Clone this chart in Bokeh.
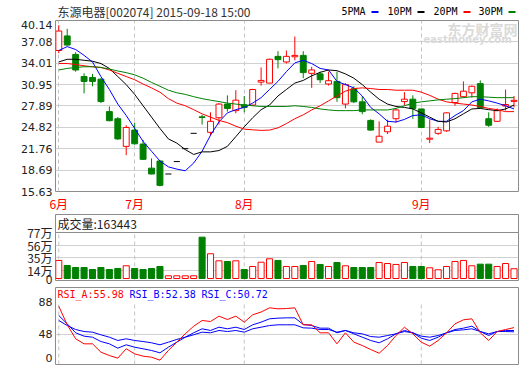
from bokeh.plotting import figure
from bokeh.models import Range1d, FixedTicker, Label, Span, PrintfTickFormatter
from bokeh.layouts import column
from bokeh.embed import file_html
from bokeh.resources import INLINE

# ---------------- data ----------------
stock_name = "东源电器[002074]"
stamp = "2015-09-18 15:00"
month_labels = ["6月", "7月", "8月", "9月"]
month_start = [0, 9, 22, 43]
price_ticks = [15.63, 18.69, 21.76, 24.82, 27.89, 30.95, 34.01, 37.08, 40.14]

opens = [35.84, 37.93, 35.28, 32.11, 31.97, 31.73, 27.08, 26.06, 22.10, 24.43,
         22.43, 18.98, 20.00, 18.14, 19.92, 21.77, 23.97, 26.33, 24.11, 26.20,
         28.16, 27.22, 28.06, 28.02, 31.31, 31.17, 35.00, 34.20, 34.94, 35.14,
         32.57, 32.49, 31.04, 31.41, 28.16, 30.34, 28.48, 25.82, 22.71, 24.19,
         26.06, 28.52, 28.86, 27.46, 23.13, 23.97, 24.33, 28.38, 29.22, 29.78,
         31.09, 26.06, 25.69, 27.88, 28.55]
highs = [39.47, 38.95, 35.60, 32.57, 32.49, 31.87, 27.82, 26.29, 25.13, 25.50,
         23.03, 20.38, 20.10, 18.14, 19.92, 21.77, 23.97, 26.62, 26.98, 28.30,
         29.41, 30.15, 29.32, 30.34, 33.41, 34.67, 35.74, 35.84, 37.84, 35.74,
         33.51, 32.81, 32.81, 32.81, 31.17, 30.71, 29.32, 25.97, 25.69, 25.92,
         27.46, 29.87, 29.41, 27.50, 25.96, 24.89, 26.98, 29.78, 31.41, 30.81,
         31.55, 26.98, 27.54, 30.25, 29.32]
lows = [35.46, 36.54, 32.81, 29.69, 30.71, 28.30, 25.69, 23.03, 20.84, 22.33,
        20.14, 18.10, 16.37, 18.14, 19.92, 21.77, 23.97, 25.22, 23.63, 25.22,
        27.08, 26.84, 26.98, 27.92, 30.81, 31.17, 33.27, 33.97, 34.44, 31.87,
        30.48, 31.17, 30.81, 28.48, 27.54, 28.30, 26.71, 24.33, 22.71, 23.87,
        25.50, 27.98, 26.06, 24.77, 22.57, 23.73, 24.19, 27.92, 29.08, 29.08,
        27.54, 24.89, 25.59, 27.22, 27.68]
closes = [38.63, 36.62, 33.05, 31.41, 31.41, 28.52, 25.78, 23.17, 24.81, 22.47,
          20.24, 18.14, 16.51, 18.14, 19.92, 21.77, 23.97, 26.25, 25.69, 28.16,
          27.54, 28.72, 27.68, 30.25, 31.55, 34.58, 34.53, 35.00, 35.14, 32.67,
          33.05, 31.65, 31.51, 29.08, 30.95, 28.48, 27.08, 24.43, 23.55, 24.99,
          27.32, 28.86, 27.54, 24.81, 23.27, 24.53, 26.90, 29.69, 30.01, 30.71,
          27.68, 25.13, 27.22, 28.10, 28.70]

ma_names = ["5PMA", "10PM", "20PM", "30PM"]
ma5 = [35.84, 36.40, 35.98, 35.14, 34.20, 32.10, 30.25, 28.16, 26.52, 24.67,
       22.80, 21.40, 20.00, 19.16, 18.84, 18.60, 19.70, 21.40, 23.70, 25.60,
       26.90, 27.36, 27.68, 28.30, 29.08, 30.25, 31.41, 32.81, 34.06, 34.44,
       33.97, 33.27, 33.05, 31.41, 30.95, 30.48, 29.32, 27.68, 26.76, 25.69,
       25.59, 25.96, 26.52, 26.62, 26.06, 25.69, 25.69, 26.52, 27.22, 28.48,
       28.86, 28.62, 28.30, 27.92, 27.46]
ma10 = [34.20, 34.58, 34.58, 34.44, 34.30, 33.97, 33.27, 32.11, 30.95, 29.55,
        27.92, 26.29, 24.67, 23.17, 22.57, 21.64, 20.94, 21.31, 21.31, 21.50,
        22.10, 23.49, 24.90, 26.20, 27.36, 28.02, 29.32, 30.25, 31.17, 31.55,
        32.21, 32.71, 33.05, 32.95, 32.49, 31.87, 30.95, 29.87, 28.86, 28.16,
        27.82, 27.68, 27.46, 26.90, 26.29, 25.69, 25.59, 26.06, 26.76, 27.46,
        27.54, 27.36, 27.22, 27.46, 28.02]
ma20 = [33.97, 33.97, 33.83, 33.65, 33.51, 33.41, 33.05, 32.57, 32.11, 31.65,
        31.03, 30.48, 29.87, 28.94, 28.30, 27.92, 27.36, 26.76, 26.29, 25.82,
        25.50, 24.99, 24.57, 24.47, 24.39, 24.43, 24.75, 25.36, 26.06, 26.62,
        27.32, 27.92, 28.62, 29.32, 30.01, 30.39, 30.48, 30.39, 30.25, 30.25,
        30.15, 30.15, 30.15, 29.87, 29.41, 28.86, 28.48, 28.30, 28.16, 28.02,
        27.82, 27.54, 27.36, 27.08, 27.08]
ma30 = [33.05, 33.27, 33.41, 33.51, 33.51, 33.41, 33.18, 32.90, 32.67, 32.35,
        31.87, 31.27, 30.71, 30.15, 29.78, 29.55, 29.22, 28.94, 28.72, 28.52,
        28.30, 28.16, 28.02, 27.92, 27.82, 27.82, 27.82, 27.82, 27.92, 27.82,
        27.68, 27.46, 27.32, 27.22, 27.22, 27.22, 27.32, 27.32, 27.32, 27.32,
        27.54, 27.92, 28.30, 28.48, 28.62, 28.76, 28.86, 28.94, 29.08, 29.22,
        29.22, 29.15, 29.08, 29.08, 29.08]

# volume in 万 (10k)
volume = [30.2, 21.8, 18.4, 18.4, 15.1, 18.4, 15.1, 16.8, 21.3, 16.8,
          15.1, 16.8, 20.1, 4.5, 4.5, 4.5, 4.5, 69.2, 41.4, 29.6,
          28.5, 29.6, 15.1, 20.1, 27.3, 33.0, 30.2, 20.1, 20.1, 21.8,
          28.5, 23.5, 20.1, 26.8, 21.3, 18.4, 18.4, 18.4, 26.8, 25.1,
          23.5, 26.8, 20.1, 20.1, 17.9, 14.6, 20.1, 28.5, 30.2, 21.3,
          24.0, 24.0, 20.1, 25.1, 16.3443]
vol_ticks = [0, 14, 35, 56, 77]
vol_tick_labels = ["0", "14万", "35万", "56万", "77万"]

rsi_a = [82.7, 59.5, 42.0, 35.7, 35.7, 25.3, 21.1, 17.8, 29.5, 23.2,
         20.3, 19.0, 15.3, 27.4, 37.8, 48.2, 57.7, 64.9, 63.6, 70.3,
         66.1, 70.3, 62.8, 72.0, 75.5, 80.7, 79.5, 79.8, 80.7, 59.5,
         59.5, 49.5, 49.5, 35.7, 49.5, 37.8, 33.6, 28.6, 24.0, 33.6,
         46.1, 56.5, 48.2, 37.8, 32.8, 39.9, 49.5, 60.7, 65.7, 67.0,
         49.5, 39.9, 51.1, 53.6, 55.98]
rsi_b = [71.1, 60.7, 49.5, 45.3, 44.0, 38.6, 35.7, 30.3, 34.5, 31.5,
         29.5, 27.4, 24.5, 31.5, 37.8, 44.0, 49.5, 54.5, 52.4, 56.5,
         54.5, 56.5, 53.6, 59.5, 62.8, 67.0, 67.8, 68.2, 68.2, 59.9,
         58.6, 55.3, 55.3, 49.5, 52.4, 48.2, 44.0, 39.9, 37.0, 42.0,
         48.2, 52.4, 49.5, 42.8, 39.9, 44.0, 49.5, 53.6, 55.3, 57.8,
         51.1, 46.1, 51.1, 52.4, 52.38]
rsi_c = [64.9, 58.6, 53.6, 51.1, 50.3, 47.0, 44.0, 39.9, 42.0, 39.9,
         38.6, 37.0, 34.5, 37.8, 41.2, 44.0, 47.0, 50.3, 49.5, 52.4,
         51.1, 52.4, 50.3, 54.5, 56.5, 58.6, 59.5, 59.5, 59.5, 55.7,
         55.3, 53.6, 53.6, 50.3, 52.4, 49.5, 48.2, 44.8, 44.0, 46.1,
         48.2, 51.1, 49.5, 45.3, 44.0, 46.1, 49.5, 52.4, 53.2, 54.5,
         51.1, 48.2, 51.1, 51.1, 50.72]
rsi_ticks = [48, 88]

# ---------------- style ----------------
RED = "#ff0000"
GREEN = "#008000"
BLUE = "#0000ff"
BLACK = "#000000"
GRID = "#d0d0d0"
VGRID = "#c4c4c4"
FRAME = "#8c8c8c"
TXT = "#222222"
CJK = "Noto Sans CJK SC"
MONO = "DejaVu Sans Mono"
ma_colors = [BLUE, BLACK, RED, GREEN]

W = 520
LB, RB = 55, 2
FW = W - LB - RB
n = len(closes)
idx = list(range(n))
step = 8.43
x0 = -0.39
x_range = Range1d(x0, x0 + FW / step)


def px_x(px):
    return x_range.start + (px - LB) * (x_range.end - x_range.start) / FW


def style(p):
    p.outline_line_color = FRAME
    p.outline_line_width = 1
    p.background_fill_color = "white"
    p.border_fill_color = "white"
    p.yaxis.axis_line_color = None
    p.yaxis.major_tick_line_color = None
    p.yaxis.minor_tick_line_color = None
    p.yaxis.major_tick_out = 0
    p.yaxis.major_label_standoff = 3
    p.yaxis.major_label_text_color = TXT
    p.ygrid.grid_line_color = GRID


# ---------------- header strip (title + MA legend) ----------------
HH = 20
p0 = figure(width=W, height=HH, x_range=x_range, y_range=Range1d(HH, 0),
            x_axis_type=None, y_axis_type=None, output_backend="svg",
            toolbar_location=None, min_border_left=LB, min_border_right=RB,
            min_border_top=0, min_border_bottom=0)
p0.outline_line_color = None
p0.grid.visible = False
p0.border_fill_color = "white"
p0.add_layout(Label(x=px_x(57), y=10.5, text=stock_name + " " + stamp,
                    text_font=CJK, text_font_size="12px", text_color="#333333",
                    text_baseline="middle", text_align="left"))
leg_x = [341, 387, 433, 478]
for name, colr, lx in zip(ma_names, ma_colors, leg_x):
    p0.add_layout(Label(x=px_x(lx), y=10.5, text=name, text_font=MONO,
                        text_font_size="10px", text_color=BLACK,
                        text_baseline="middle", text_align="left"))
p0.segment(x0=[px_x(lx + 30) for lx in leg_x], y0=[11.5] * 4,
           x1=[px_x(lx + 37) for lx in leg_x], y1=[11.5] * 4,
           line_color=ma_colors, line_width=2)

# ---------------- main price panel ----------------
FH1, BOT1 = 177, 17
pmin, pmax = price_ticks[0], price_ticks[-1]
p1 = figure(width=W, height=FH1 + BOT1, x_range=x_range,
            y_range=Range1d(pmin, pmax), output_backend="svg",
            toolbar_location=None, min_border_left=LB, min_border_right=RB,
            min_border_top=0, min_border_bottom=BOT1)
style(p1)
p1.yaxis.ticker = FixedTicker(ticks=price_ticks)
p1.yaxis.formatter = PrintfTickFormatter(format="%.2f")
p1.yaxis.major_label_text_font = "DejaVu Sans"
p1.yaxis.major_label_text_font_size = "11px"
p1.ygrid.ticker = FixedTicker(ticks=price_ticks[1:-1])
p1.xaxis.ticker = FixedTicker(ticks=month_start)
p1.xaxis.major_label_overrides = {m: t for m, t in zip(month_start, month_labels)}
p1.xaxis.axis_line_color = None
p1.xaxis.major_tick_line_color = None
p1.xaxis.minor_tick_line_color = None
p1.xaxis.major_tick_out = 0
p1.xaxis.major_label_standoff = 3
p1.xaxis.major_label_text_color = RED
p1.xaxis.major_label_text_font = CJK
p1.xaxis.major_label_text_font_size = "12px"
p1.xgrid.ticker = FixedTicker(ticks=month_start)
p1.xgrid.grid_line_color = VGRID
p1.xgrid.grid_line_dash = "4 3"


def py1(py):
    return pmax - py * (pmax - pmin) / FH1


cand_col = [RED if c > o else (GREEN if c < o else BLACK) for o, c in zip(opens, closes)]
p1.segment(x0=idx, y0=lows, x1=idx, y1=highs, line_color=cand_col, line_width=1)
bx, bt, bb, bf, bl = [], [], [], [], []
fx, fy = [], []
for i, (o, c) in enumerate(zip(opens, closes)):
    if o == c:
        fx.append(i)
        fy.append(c)
    else:
        bx.append(i)
        bt.append(max(o, c))
        bb.append(min(o, c))
        bf.append("white" if c > o else GREEN)
        bl.append(RED if c > o else GREEN)
p1.vbar(x=bx, width=0.7, top=bt, bottom=bb, fill_color=bf, line_color=bl, line_width=1)
p1.segment(x0=[i - 0.36 for i in fx], y0=fy, x1=[i + 0.36 for i in fx], y1=fy,
           line_color=BLACK, line_width=1)

for ser, colr in zip([ma5, ma10, ma20, ma30], ma_colors):
    p1.line(idx, ser, line_color=colr, line_width=1)

# watermark
p1.add_layout(Label(x=px_x(447), y=py1(8.5), text="东方财富网", text_font=CJK,
                    text_font_size="14px", text_font_style="bold", text_color="#dadada",
                    text_baseline="middle", text_align="left"))
p1.add_layout(Label(x=px_x(423), y=py1(20), text="eastmoney.com", text_font="DejaVu Sans",
                    text_font_size="10px", text_font_style="bold", text_color="#dadada",
                    text_baseline="middle", text_align="left"))

# ---------------- volume panel ----------------
FH2, BOT2 = 66, 7
v_per_px = 77 / 46.0
vmin = -2 * v_per_px
vmax = vmin + FH2 * v_per_px
p2 = figure(width=W, height=FH2 + BOT2, x_range=x_range, y_range=Range1d(vmin, vmax),
            output_backend="svg", toolbar_location=None, min_border_left=LB,
            min_border_right=RB, min_border_top=0, min_border_bottom=BOT2)
style(p2)
p2.xaxis.visible = False
p2.xgrid.visible = False
p2.yaxis.ticker = FixedTicker(ticks=vol_ticks)
p2.yaxis.major_label_overrides = {t: s for t, s in zip(vol_ticks, vol_tick_labels)}
p2.yaxis.major_label_text_font = CJK
p2.yaxis.major_label_text_font_size = "12px"
p2.ygrid.ticker = FixedTicker(ticks=vol_ticks[1:-1])
p2.add_layout(Span(location=vol_ticks[-1], dimension="width", line_color=FRAME, line_width=1))
p2.segment(x0=month_start, y0=[vmin] * len(month_start), x1=month_start,
           y1=[vol_ticks[-1]] * len(month_start), line_color=VGRID, line_dash="4 3")
up = [c >= o for o, c in zip(opens, closes)]
p2.vbar(x=idx, width=0.72, top=volume, bottom=0,
        fill_color=["white" if u else GREEN for u in up],
        line_color=[RED if u else GREEN for u in up], line_width=1)
p2.add_layout(Label(x=px_x(57), y=vmax - 9 * v_per_px,
                    text="成交量:%d" % round(volume[-1] * 10000), text_font=CJK,
                    text_font_size="12px", text_color=TXT,
                    text_baseline="middle", text_align="left"))

# ---------------- RSI panel ----------------
FH3, BOT3 = 77, 1
r_per_px = 40 / 32.0
y88 = 14.5  # px below top of frame where 88 sits
rmax = rsi_ticks[1] + y88 * r_per_px
rmin = rmax - FH3 * r_per_px
zero_pos = rmin + 6.5 * r_per_px
p3 = figure(width=W, height=FH3 + BOT3, x_range=x_range, y_range=Range1d(rmin, rmax),
            output_backend="svg", toolbar_location=None, min_border_left=LB,
            min_border_right=RB, min_border_top=0, min_border_bottom=BOT3)
style(p3)
p3.xaxis.visible = False
p3.xgrid.visible = False
p3.yaxis.ticker = FixedTicker(ticks=[zero_pos] + rsi_ticks)
p3.yaxis.major_label_overrides = {zero_pos: "0", 48: "48", 88: "88"}
p3.yaxis.major_label_text_font = "DejaVu Sans"
p3.yaxis.major_label_text_font_size = "11px"
p3.ygrid.ticker = FixedTicker(ticks=[rsi_ticks[0]])
p3.segment(x0=month_start, y0=[rmin] * len(month_start), x1=month_start,
           y1=[rsi_ticks[1]] * len(month_start), line_color=VGRID, line_dash="4 3")
p3.line(idx, rsi_c, line_color=BLUE, line_width=1)
p3.line(idx, rsi_b, line_color=BLUE, line_width=1)
p3.line(idx, rsi_a, line_color=RED, line_width=1)
rsi_names = ["RSI_A", "RSI_B", "RSI_C"]
for name, ser, colr, lx in zip(rsi_names, [rsi_a, rsi_b, rsi_c], [RED, BLUE, BLUE], [57, 129, 201]):
    p3.add_layout(Label(x=px_x(lx), y=rmax - 6.5 * r_per_px, text="%s:%.2f" % (name, ser[-1]),
                        text_font=MONO, text_font_size="10px", text_color=colr,
                        text_baseline="middle", text_align="left"))

layout = column(p0, p1, p2, p3, spacing=0)
open("out.html", "w").write(file_html(layout, INLINE))
